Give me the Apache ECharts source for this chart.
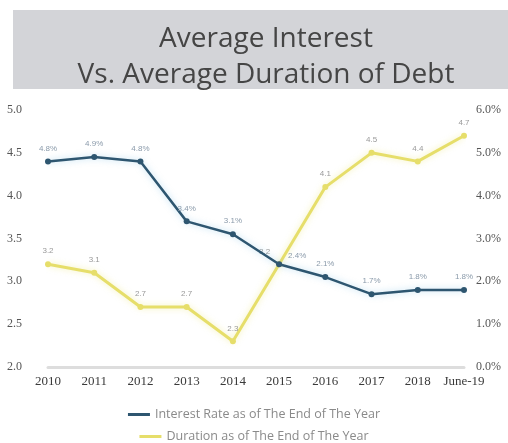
<!DOCTYPE html>
<html>
<head>
<meta charset="utf-8">
<script src="https://cdn.jsdelivr.net/npm/echarts@6/dist/echarts.min.js"></script>
<style>
html,body{margin:0;padding:0;background:#fff;}
#chart{width:508px;height:443px;}
</style>
</head>
<body>
<div id="chart"></div>
<script>
// Years along the x axis
var categories = ['2010','2011','2012','2013','2014','2015','2016','2017','2018','June-19'];
// Average interest rate (%), right axis
var interestRate = [4.8, 4.9, 4.8, 3.4, 3.1, 2.4, 2.1, 1.7, 1.8, 1.8];
// Average duration of debt (years), left axis
var duration = [3.2, 3.1, 2.7, 2.7, 2.3, 3.2, 4.1, 4.5, 4.4, 4.7];
// Axis tick ranges
var durationTicks = {min: 2, max: 5, step: 0.5};
var rateTicks = {min: 0, max: 6, step: 1};

var rateName = 'Interest Rate as of The End of The Year';
var durationName = 'Duration as of The End of The Year';

var chart = echarts.init(document.getElementById('chart'));
var axisFont = 'Liberation Serif, DejaVu Serif, serif';

// Where the two lines cross (2015) their labels are pushed apart
var rateData = interestRate.map(function (v, i) {
  return categories[i] === '2015'
    ? {value: v, label: {position: 'right', offset: [0, -8]}}
    : v;
});
var durationData = duration.map(function (v, i) {
  return categories[i] === '2015'
    ? {value: v, label: {position: 'left', offset: [0, -12]}}
    : v;
});

function legendRow(name, top) {
  return {
    left: 'center',
    top: top,
    itemWidth: 22,
    itemHeight: 3,
    icon: 'rect',
    textStyle: {fontFamily: 'Open Sans, sans-serif', fontSize: 12.5, color: '#8a8a8a'},
    data: [{name: name}]
  };
}

chart.setOption({
  backgroundColor: '#fff',
  graphic: [{
    type: 'rect',
    shape: {x: 13, y: 10, width: 495, height: 79},
    style: {fill: '#d3d4d8'},
    z: 0
  }],
  title: {
    text: 'Average Interest\nVs. Average Duration of Debt',
    left: 261,
    textAlign: 'center',
    top: 16,
    textStyle: {
      fontFamily: 'Open Sans, Noto Sans, sans-serif',
      fontSize: 28,
      fontWeight: 'normal',
      color: '#454545',
      lineHeight: 36
    }
  },
  legend: [legendRow(rateName, 403), legendRow(durationName, 425)],
  grid: {left: 48, right: 44, top: 110, bottom: 76},
  xAxis: {
    type: 'category',
    data: categories,
    boundaryGap: false,
    axisLine: {lineStyle: {color: '#ddd', width: 3}},
    axisTick: {show: false},
    axisLabel: {fontFamily: axisFont, fontSize: 13, color: '#3a3a3a', margin: 8, interval: 0}
  },
  yAxis: [{
    type: 'value',
    min: durationTicks.min, max: durationTicks.max, interval: durationTicks.step,
    position: 'left',
    splitLine: {show: false},
    axisLine: {show: false},
    axisTick: {show: false},
    axisLabel: {fontFamily: axisFont, fontSize: 12, color: '#555', margin: 26,
      formatter: function (v) { return v.toFixed(1); }}
  }, {
    type: 'value',
    min: rateTicks.min, max: rateTicks.max, interval: rateTicks.step,
    position: 'right',
    splitLine: {show: false},
    axisLine: {show: false},
    axisTick: {show: false},
    axisLabel: {fontFamily: axisFont, fontSize: 12, color: '#555', margin: 12,
      formatter: function (v) { return v.toFixed(1) + '%'; }}
  }],
  series: [{
    name: rateName,
    type: 'line',
    yAxisIndex: 1,
    data: rateData,
    symbol: 'circle',
    symbolSize: 6,
    color: '#2e5670',
    lineStyle: {width: 2.5, color: '#2e5670', shadowColor: 'rgba(120,190,230,0.5)', shadowBlur: 6},
    label: {show: true, position: 'top', distance: 6, fontSize: 8, color: '#8a9aaa',
      formatter: function (p) { return p.value.toFixed(1) + '%'; }},
    z: 3
  }, {
    name: durationName,
    type: 'line',
    yAxisIndex: 0,
    data: durationData,
    symbol: 'circle',
    symbolSize: 6,
    color: '#e6de6a',
    lineStyle: {width: 3, color: '#e6de6a', shadowColor: 'rgba(240,235,150,0.7)', shadowBlur: 6},
    label: {show: true, position: 'top', distance: 6, fontSize: 8, color: '#999',
      formatter: function (p) { return p.value.toFixed(1); }},
    z: 2
  }]
});
</script>
</body>
</html>
